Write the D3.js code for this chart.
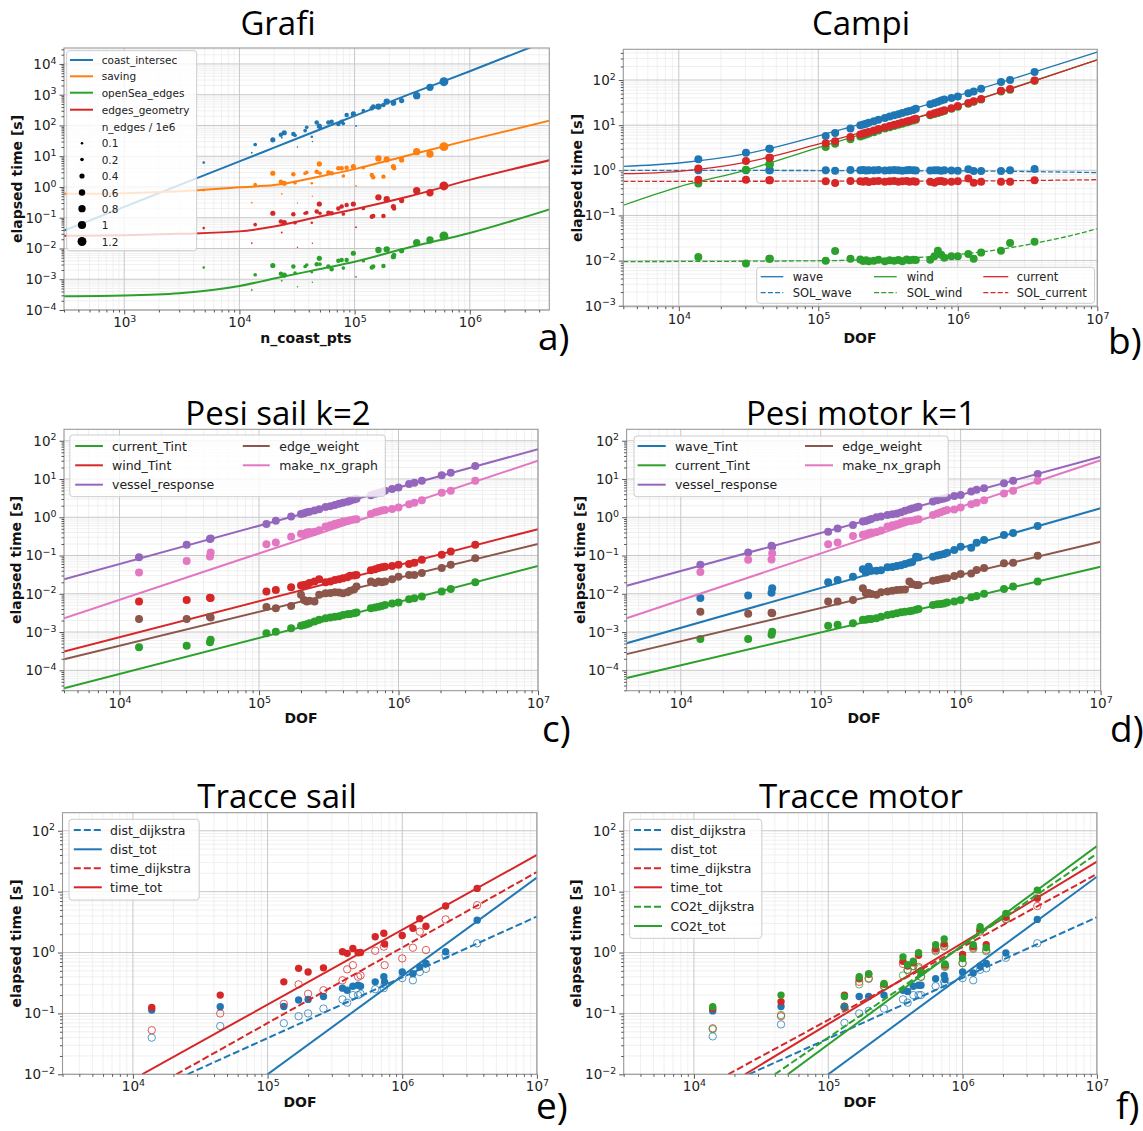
<!DOCTYPE html>
<html>
<head>
<meta charset="utf-8">
<script src="https://cdn.jsdelivr.net/npm/d3@7"></script>
<style>body{margin:0;background:#fff;}</style>
</head>
<body>
<script>
var blue = "#1f77b4", orange = "#ff7f0e", green = "#2ca02c", red = "#d62728",
    purple = "#9467bd", brown = "#8c564b", pink = "#e377c2";

// ---------- a) Grafi : one row per graph ----------
var aCoastPts = [4.9e3, 1.28e4, 1.37e4, 1.95e4, 2.33e4, 2.29e4, 2.45e4, 2.94e4, 3.04e4, 3.19e4,
                 3.72e4, 3.84e4, 4.25e4, 4.3e4, 4.69e4, 4.94e4, 5.0e4, 5.92e4, 6.32e4, 7.22e4,
                 7.72e4, 7.98e4, 8.53e4, 9.75e4, 1.03e5, 1.19e5, 1.41e5, 1.45e5, 1.61e5, 1.78e5,
                 1.9e5, 2.17e5, 2.2e5, 2.56e5, 3.46e5, 4.51e5, 5.96e5];
var aNEdges = [0.1, 0.05, 0.2, 0.4, 0.05, 0.3, 0.4, 0.3, 0.2, 0.03,
               0.2, 0.2, 0.1, 0.03, 0.3, 0.4, 0.2, 0.3, 0.3, 0.3,
               0.3, 0.2, 0.3, 0.4, 0.05, 0.2, 0.3, 0.3, 0.6, 0.3,
               0.6, 0.4, 0.3, 0.4, 0.8, 0.8, 1.2];
var aCoastIntersec = [6.2, 13, 24, 34, 40, 50, 58, 53, 48, 20,
                      68, 87, 43, 30, 124, 96, 87, 124, 133, 112,
                      133, 115, 220, 237, 96, 303, 361, 410, 410, 464,
                      596, 530, 560, 643, 933, 1740, 2660];
var aSaving = [0.79, 0.31, 1.2, 2.8, 0.6, 1.49, 1.32, 2.6, 1.38, 0.3,
               2.78, 3.0, 1.32, 0.5, 3.15, 5.6, 2.78, 2.93, 2.78, 4.05,
               4.05, 2.28, 4.25, 4.6, 1.08, 4.25, 2.45, 2.06, 8.5, 2.17,
               7.9, 4.6, 4.05, 7.6, 14.1, 11.8, 20.5];
var aOpenSea = [0.0024, 0.00045, 0.0014, 0.0028, 0.0009, 0.0015, 0.00137, 0.0026, 0.0016, 0.00057,
                0.0026, 0.0029, 0.0017, 0.0008, 0.0031, 0.0048, 0.0031, 0.0026, 0.0021, 0.004,
                0.0042, 0.0023, 0.0042, 0.007, 0.0012, 0.004, 0.0024, 0.0026, 0.0089, 0.0027,
                0.0094, 0.0054, 0.0061, 0.0085, 0.0155, 0.0189, 0.0255];
var aEdgesGeom = [0.046, 0.015, 0.06, 0.14, 0.033, 0.075, 0.069, 0.13, 0.069, 0.011,
                  0.14, 0.146, 0.069, 0.0148, 0.158, 0.28, 0.14, 0.146, 0.139, 0.2,
                  0.23, 0.132, 0.26, 0.28, 0.049, 0.2, 0.108, 0.114, 0.46, 0.114,
                  0.4, 0.23, 0.2, 0.36, 0.76, 0.65, 1.08];
var aFitX = [300, 1e3, 3e3, 1e4, 2e4, 5e4, 1e5, 3e5, 1e6, 5e6];
var aFitCoast = [0.038, 0.226, 1.15, 6.8, 19, 74, 205, 1040, 5800, 62000];
var aFitSaving = [0.60, 0.63, 0.72, 0.98, 1.15, 2.2, 3.8, 11, 34, 145];
var aFitOpenSea = [2.8e-4, 2.95e-4, 3.5e-4, 6e-4, 1.05e-3, 2.15e-3, 3.7e-3, 0.011, 0.032, 0.19];
var aFitEdgesGeom = [0.026, 0.027, 0.03, 0.036, 0.052, 0.11, 0.19, 0.5, 1.7, 7.5];
var aSizeKeys = [0.1, 0.2, 0.4, 0.6, 0.8, 1, 1.2];

// ---------- b, c, d : shared DOF ----------
var dof = [1.38e4, 3.03e4, 4.45e4, 4.5e4, 1.13e5, 1.32e5, 1.7e5, 2.0e5, 2.1e5, 2.2e5,
           2.3e5, 2.5e5, 2.7e5, 3.0e5, 3.25e5, 3.5e5, 3.75e5, 4.0e5, 4.3e5, 4.5e5,
           4.8e5, 5.0e5, 6.34e5, 6.8e5, 7.2e5, 7.6e5, 8.0e5, 9.0e5, 1.0e6, 1.19e6,
           1.3e6, 1.47e6, 2.04e6, 2.37e6, 3.55e6];

// b) Campi
var bWave = [1.75, 2.46, 3.0, 3.0, 5.75, 6.7, 8.4, 9.9, 10.3, 10.8, 11.3, 12.2, 13.2, 14.5, 15.5, 16.5, 17.5, 18.5,
             19.8, 20.5, 21.8, 23, 29, 31, 33, 35, 37, 40, 43, 51, 56, 64, 90, 100, 150];
var bWind = [0.51, 1.03, 1.36, 1.36, 3.3, 3.9, 4.9, 5.6, 5.9, 6.2, 6.5, 7.0, 7.6, 8.4, 9.0, 9.6, 10.2, 10.8,
             11.5, 12.0, 12.7, 13.2, 16.5, 17.6, 18.6, 19.6, 20.6, 23, 25.5, 30, 33, 37, 56, 61, 96];
var bCurrent = [1.09, 1.6, 1.9, 1.9, 4.0, 4.4, 5.5, 6.2, 6.5, 6.8, 7.1, 7.6, 8.2, 9.0, 9.6, 10.2, 10.8, 11.4,
                12.1, 12.6, 13.3, 13.8, 17.2, 18.3, 19.3, 20.3, 21.3, 23.8, 26.5, 31, 34, 38, 58, 63, 98];
var bSolWave = [1.0, 1.0, 1.0, 1.0, 1.0, 0.98, 1.02, 1.0, 1.01, 0.99, 1.0, 1.0, 1.02, 0.99, 1.0, 1.01, 1.0, 0.98,
                1.0, 1.01, 1.0, 0.99, 0.99, 1.0, 1.0, 0.98, 1.0, 0.99, 0.98, 1.06, 0.96, 0.97, 0.96, 1.0, 1.07];
var bSolCurrent = [0.62, 0.62, 0.6, 0.6, 0.57, 0.52, 0.58, 0.57, 0.56, 0.58, 0.55, 0.57, 0.58, 0.56, 0.57, 0.58, 0.56, 0.57,
                   0.58, 0.56, 0.57, 0.56, 0.56, 0.53, 0.57, 0.58, 0.56, 0.56, 0.57, 0.66, 0.53, 0.56, 0.56, 0.56, 0.6];
var bSolWind = [0.012, 0.0086, 0.011, 0.011, 0.0099, 0.0162, 0.011, 0.0105, 0.0098, 0.0102, 0.0097, 0.0099, 0.0104,
                0.0097, 0.0101, 0.0099, 0.0103, 0.0097, 0.0105, 0.0101, 0.0104, 0.0103, 0.0104, 0.0125, 0.0165,
                0.0135, 0.0115, 0.0125, 0.0124, 0.014, 0.011, 0.015, 0.0165, 0.0246, 0.026];
var bFitX = [4000, 1e4, 3e4, 1e5, 3e5, 1e6, 3e6, 1e7];
var bFitWave = [1.22, 1.45, 2.3, 5.8, 15, 45, 128, 415];
var bFitWind = [0.168, 0.43, 1.0, 3.2, 9.0, 27, 82, 280];
var bFitCurrent = [0.84, 0.95, 1.5, 3.8, 9.5, 27, 80, 280];
var bSolX = [4000, 1e6, 1e7];
var bFitSolWave = [1.0, 0.97, 0.89];
var bFitSolCurrent = [0.57, 0.58, 0.62];
var bSolWindX = [4000, 1e5, 5e5, 1e6, 2e6, 4e6, 7e6, 1e7];
var bFitSolWind = [0.0095, 0.0099, 0.0116, 0.0136, 0.0177, 0.026, 0.038, 0.051];

// c) Pesi sail k=2
var cCurrentTint = [0.0004, 0.00044, 0.00054, 0.00063, 0.00093, 0.00102, 0.00125, 0.00147, 0.00152, 0.0016, 0.0017,
                    0.00188, 0.0021, 0.0023, 0.0024, 0.0025, 0.0026, 0.0028, 0.0029, 0.00295, 0.0031, 0.00325, 0.0042,
                    0.0044, 0.0046, 0.0048, 0.0051, 0.0056, 0.0059, 0.0072, 0.0076, 0.0085, 0.0115, 0.0133, 0.02];
var cWindTint = [0.0063, 0.0069, 0.0079, 0.0077, 0.0115, 0.0126, 0.0148, 0.0164, 0.017, 0.0175, 0.019, 0.021, 0.024,
                 0.02, 0.021, 0.023, 0.024, 0.0255, 0.027, 0.0295, 0.03, 0.031, 0.041, 0.044, 0.047, 0.049, 0.051,
                 0.053, 0.057, 0.06, 0.065, 0.077, 0.104, 0.127, 0.19];
var cVessel = [0.09, 0.19, 0.27, 0.28, 0.67, 0.81, 1.04, 1.22, 1.28, 1.35, 1.4, 1.5, 1.62, 1.85, 1.95, 2.1, 2.25, 2.4,
               2.55, 2.7, 2.9, 3.05, 3.75, 4.1, 4.4, 4.6, 4.9, 5.5, 6.0, 7.4, 8.0, 9.0, 12.6, 14.6, 21.9];
var cEdgeWeight = [0.0022, 0.0022, 0.0025, 0.0024, 0.0045, 0.0042, 0.0048, 0.0094, 0.0069, 0.0063, 0.0066, 0.0063,
                   0.0094, 0.0103, 0.0105, 0.011, 0.0108, 0.0103, 0.011, 0.012, 0.013, 0.0155, 0.021, 0.019, 0.021,
                   0.02, 0.021, 0.024, 0.028, 0.031, 0.031, 0.035, 0.047, 0.057, 0.085];
var cNxGraph = [0.036, 0.072, 0.094, 0.12, 0.197, 0.22, 0.31, 0.37, 0.36, 0.4, 0.41, 0.42, 0.46, 0.57, 0.62, 0.68,
                0.72, 0.77, 0.8, 0.84, 0.88, 0.89, 1.22, 1.35, 1.42, 1.5, 1.55, 1.65, 1.8, 2.2, 2.4, 2.8, 4.4, 4.9, 9.0];
var fitEndX = [4000, 1e7];
var cFitCurrent = [3.4e-5, 0.053];
var cFitWind = [3.1e-4, 0.49];
var cFitVessel = [0.024, 60];
var cFitEdge = [1.95e-4, 0.2];
var cFitNx = [0.0023, 30];

// d) Pesi motor k=1
var dWaveTint = [0.0077, 0.009, 0.0107, 0.014, 0.02, 0.023, 0.028, 0.044, 0.036, 0.051, 0.04, 0.04, 0.041, 0.049,
                 0.05, 0.053, 0.056, 0.06, 0.065, 0.068, 0.093, 0.09, 0.093, 0.1, 0.104, 0.11, 0.119, 0.14, 0.17,
                 0.16, 0.217, 0.255, 0.345, 0.39, 0.59];
var dCurrentTint = [0.00066, 0.00066, 0.00085, 0.00102, 0.00145, 0.00155, 0.0017, 0.0021, 0.0021, 0.0022, 0.0022,
                    0.0023, 0.0025, 0.0028, 0.0029, 0.0031, 0.0033, 0.0034, 0.0035, 0.0036, 0.0038, 0.004, 0.0051,
                    0.0053, 0.0054, 0.0056, 0.0059, 0.0063, 0.0069, 0.0081, 0.0088, 0.01, 0.0133, 0.0155, 0.021];
var dVessel = [0.057, 0.12, 0.18, 0.17, 0.42, 0.51, 0.63, 0.77, 0.8, 0.85, 0.9, 1.0, 1.05, 1.15, 1.2, 1.26, 1.35,
               1.49, 1.6, 1.7, 1.8, 1.89, 2.57, 2.8, 2.95, 3.1, 3.3, 3.6, 3.8, 4.7, 5.2, 5.7, 7.7, 9.0, 13.5];
var dEdgeWeight = [0.0034, 0.003, 0.0032, 0.0031, 0.0063, 0.0063, 0.0069, 0.014, 0.0103, 0.0105, 0.0098, 0.0095,
                   0.011, 0.0115, 0.012, 0.0126, 0.0128, 0.013, 0.021, 0.018, 0.017, 0.017, 0.022, 0.023, 0.024,
                   0.025, 0.0255, 0.029, 0.033, 0.034, 0.042, 0.047, 0.063, 0.065, 0.098];
var dNxGraph = [0.037, 0.077, 0.079, 0.115, 0.197, 0.22, 0.325, 0.35, 0.36, 0.38, 0.4, 0.41, 0.45, 0.57, 0.62, 0.66,
                0.72, 0.77, 0.8, 0.81, 0.86, 0.89, 1.15, 1.25, 1.35, 1.45, 1.55, 1.6, 1.8, 2.2, 2.4, 2.8, 4.2, 4.9, 9.0];
var dFitX = [4100, 1e7];
var dFitWave = [5.1e-4, 1.72];
var dFitCurrent = [6.3e-5, 0.051];
var dFitVessel = [0.0162, 38];
var dFitEdge = [2.65e-4, 0.23];
var dFitNx = [0.0023, 31];

// ---------- e, f : routes ----------
var trDof = [1.38e4, 4.45e4, 1.32e5, 1.7e5, 2.0e5, 2.6e5, 3.6e5, 3.9e5, 4.3e5, 4.7e5,
             4.9e5, 6.3e5, 7.3e5, 7.4e5, 1.0e6, 1.2e6, 1.35e6, 1.5e6, 2.1e6, 3.6e6];
var eDistDij = [0.04, 0.062, 0.069, 0.09, 0.1, 0.12, 0.17, 0.15, 0.2, 0.2, 0.21, 0.25, 0.26, 0.3, 0.38, 0.35, 0.48, 0.54, 0.9, 1.42];
var eDistTot = [0.114, 0.129, 0.13, 0.166, 0.17, 0.19, 0.26, 0.24, 0.28, 0.29, 0.28, 0.33, 0.4, 0.33, 0.48, 0.45, 0.58, 0.66, 1.03, 3.4];
var eTimeDij = [0.053, 0.1, 0.143, 0.3, 0.21, 0.24, 0.35, 0.53, 0.62, 0.4, 0.42, 1.07, 1.25, 0.62, 0.8, 1.2, 2.2, 1.1, 3.5, 6.0];
var eTimeTot = [0.125, 0.2, 0.33, 0.55, 0.48, 0.56, 1.03, 0.97, 1.17, 0.99, 1.0, 1.82, 2.07, 1.38, 1.9, 2.5, 3.6, 2.7, 5.8, 11.3];
var eFitDistDij = [[2.54e4, 1e7], [0.01, 3.9]];
var eFitDistTot = [[1e5, 1e7], [0.01, 17]];
var eFitTimeDij = [[2.1e4, 1e7], [0.01, 21]];
var eFitTimeTot = [[1.17e4, 1e7], [0.01, 40]];

var fDistDij = [0.042, 0.066, 0.07, 0.1, 0.11, 0.12, 0.17, 0.15, 0.2, 0.2, 0.2, 0.28, 0.33, 0.3, 0.38, 0.35, 0.52, 0.55, 0.82, 1.42];
var fDistTot = [0.11, 0.13, 0.13, 0.19, 0.19, 0.2, 0.24, 0.23, 0.28, 0.29, 0.29, 0.37, 0.42, 0.36, 0.48, 0.46, 0.6, 0.66, 0.98, 3.5];
var fTimeDij = [0.057, 0.09, 0.13, 0.33, 0.37, 0.28, 0.65, 0.52, 0.6, 0.58, 0.4, 1.1, 1.25, 0.6, 0.67, 1.2, 2.2, 1.1, 3.5, 5.8];
var fTimeTot = [0.12, 0.156, 0.2, 0.37, 0.44, 0.3, 0.72, 0.6, 0.68, 0.9, 0.5, 1.15, 1.38, 0.62, 0.93, 1.25, 2.4, 1.34, 3.8, 7.8];
var fCo2Dij = [0.055, 0.094, 0.125, 0.3, 0.38, 0.28, 0.42, 0.52, 0.6, 0.55, 0.4, 1.05, 1.3, 0.58, 0.67, 1.15, 2.3, 1.05, 3.6, 9.2];
var fCo2Tot = [0.129, 0.2, 0.19, 0.4, 0.45, 0.31, 0.85, 0.63, 0.72, 0.99, 0.47, 1.34, 1.67, 0.65, 0.8, 1.34, 2.66, 1.2, 4.4, 10.6];
var fFitDistDij = [[2.57e4, 1e7], [0.01, 3.8]];
var fFitDistTot = [[1e5, 1e7], [0.01, 17.6]];
var fFitTimeDij = [[1.8e4, 1e7], [0.01, 19.5]];
var fFitTimeTot = [[2.4e4, 1e7], [0.01, 31]];
var fFitCo2Dij = [[4.0e4, 1e7], [0.01, 42]];
var fFitCo2Tot = [[5.0e4, 1e7], [0.01, 56]];

// ---------------------------------------------------------------
var svg = d3.select("body").append("svg")
    .attr("width", 1143)
    .attr("height", 1131)
    .attr("xmlns", "http://www.w3.org/2000/svg");
svg.append("rect").attr("width", 1143).attr("height", 1131).attr("fill", "#fff");

var tickFont = "DejaVu Sans";

function logTicks(dom) {
    var lo = Math.floor(Math.log10(dom[0])), hi = Math.ceil(Math.log10(dom[1]));
    var major = [], minor = [];
    for (var e = lo; e <= hi; e++) {
        var v = Math.pow(10, e);
        if (v >= dom[0] * 0.999 && v <= dom[1] * 1.001) major.push(v);
        for (var m = 2; m < 10; m++) {
            var w = m * v;
            if (w >= dom[0] && w <= dom[1]) minor.push(w);
        }
    }
    return {major: major, minor: minor};
}

function sup(sel, v) {
    var e = Math.round(Math.log10(v));
    sel.text("10");
    sel.append("tspan").attr("dy", "-0.55em").attr("font-size", "0.7em")
        .text(e < 0 ? "\u2212" + (-e) : "" + e);
}

function makePanel(p) {
    var x = d3.scaleLog().domain(p.xd).range([p.l, p.r]);
    var y = d3.scaleLog().domain(p.yd).range([p.b, p.t]);
    var g = svg.append("g");
    var cid = "clip_" + p.name;
    g.append("clipPath").attr("id", cid).append("rect")
        .attr("x", p.l).attr("y", p.t).attr("width", p.r - p.l).attr("height", p.b - p.t);

    var tx = logTicks(p.xd), ty = logTicks(p.yd);
    var grid = g.append("g");
    tx.minor.forEach(function(v) {
        grid.append("line").attr("x1", x(v)).attr("x2", x(v)).attr("y1", p.t).attr("y2", p.b)
            .attr("stroke", "#ececec").attr("stroke-width", 0.8);
    });
    ty.minor.forEach(function(v) {
        grid.append("line").attr("y1", y(v)).attr("y2", y(v)).attr("x1", p.l).attr("x2", p.r)
            .attr("stroke", "#ececec").attr("stroke-width", 0.8);
    });
    tx.major.forEach(function(v) {
        grid.append("line").attr("x1", x(v)).attr("x2", x(v)).attr("y1", p.t).attr("y2", p.b)
            .attr("stroke", "#c8c8c8").attr("stroke-width", 1);
    });
    ty.major.forEach(function(v) {
        grid.append("line").attr("y1", y(v)).attr("y2", y(v)).attr("x1", p.l).attr("x2", p.r)
            .attr("stroke", "#c8c8c8").attr("stroke-width", 1);
    });

    var data = g.append("g").attr("clip-path", "url(#" + cid + ")");

    // frame
    g.append("rect").attr("x", p.l).attr("y", p.t).attr("width", p.r - p.l).attr("height", p.b - p.t)
        .attr("fill", "none").attr("stroke", "#9a9a9a").attr("stroke-width", 1.1);

    // ticks
    var xMin = g.append("g").attr("transform", "translate(0," + p.b + ")")
        .call(d3.axisBottom(x).tickValues(tx.minor).tickSize(2.5).tickFormat(""));
    var xMaj = g.append("g").attr("transform", "translate(0," + p.b + ")")
        .call(d3.axisBottom(x).tickValues(tx.major).tickSize(4.5).tickPadding(3).tickFormat(""));
    var yMin = g.append("g").attr("transform", "translate(" + p.l + ",0)")
        .call(d3.axisLeft(y).tickValues(ty.minor).tickSize(2.5).tickFormat(""));
    var yMaj = g.append("g").attr("transform", "translate(" + p.l + ",0)")
        .call(d3.axisLeft(y).tickValues(ty.major).tickSize(4.5).tickPadding(3).tickFormat(""));
    [xMin, xMaj, yMin, yMaj].forEach(function(a) {
        a.attr("font-family", tickFont).attr("font-size", 13.5);
        a.select(".domain").remove();
        a.selectAll(".tick line").attr("stroke", "#555");
        a.selectAll(".tick text").attr("fill", "#222");
    });
    xMaj.selectAll(".tick text").each(function(d) { sup(d3.select(this), d); });
    yMaj.selectAll(".tick text").each(function(d) { sup(d3.select(this), d); });

    // axis titles
    g.append("text")
        .attr("transform", "translate(" + p.yl + "," + ((p.t + p.b) / 2) + ") rotate(-90)")
        .attr("text-anchor", "middle").attr("dominant-baseline", "central")
        .attr("font-family", tickFont).attr("font-weight", "bold").attr("font-size", 14)
        .attr("fill", "#111").text("elapsed time [s]");
    g.append("text").attr("x", p.xlx).attr("y", p.xly)
        .attr("text-anchor", "middle")
        .attr("font-family", tickFont).attr("font-weight", "bold").attr("font-size", 14)
        .attr("fill", "#111").text(p.xlabel);

    // title and letter
    svg.append("text").attr("x", p.tx).attr("y", p.ty).attr("text-anchor", "middle")
        .attr("font-family", "Open Sans").attr("font-size", 33).attr("fill", "#000").text(p.title);
    svg.append("text").attr("x", p.lx).attr("y", p.ly)
        .attr("font-family", "Open Sans").attr("font-size", 37).attr("fill", "#000").text(p.letter);

    return {x: x, y: y, g: g, data: data};
}

function pairs(xs, ys) {
    return xs.map(function(v, i) { return [v, ys[i]]; });
}

function fitLine(P, xs, ys, color, w, dash) {
    var line = d3.line()
        .x(function(d) { return P.x(d[0]); })
        .y(function(d) { return P.y(d[1]); })
        .curve(xs.length > 2 ? d3.curveMonotoneX : d3.curveLinear);
    P.data.append("path").datum(pairs(xs, ys))
        .attr("d", line).attr("fill", "none")
        .attr("stroke", color).attr("stroke-width", w)
        .attr("stroke-dasharray", dash || null);
}

function dots(P, xs, ys, color, r, open) {
    P.data.append("g").selectAll("circle")
        .data(pairs(xs, ys))
        .join("circle")
        .attr("cx", function(d) { return P.x(d[0]); })
        .attr("cy", function(d) { return P.y(d[1]); })
        .attr("r", function(d, i) { return typeof r === "function" ? r(i) : r; })
        .attr("fill", open ? "none" : color)
        .attr("stroke", open ? color : "none")
        .attr("stroke-width", 1)
        .attr("opacity", open ? 0.75 : 1);
}

function legend(P, box, items, fs) {
    var lg = P.g.append("g");
    lg.append("rect").attr("x", box[0]).attr("y", box[1])
        .attr("width", box[2] - box[0]).attr("height", box[3] - box[1])
        .attr("rx", 3).attr("fill", "#fff").attr("fill-opacity", 0.8)
        .attr("stroke", "#cccccc").attr("stroke-width", 1);
    items.forEach(function(it) {
        if (it.color) {
            lg.append("line").attr("x1", it.x1).attr("x2", it.x2).attr("y1", it.y).attr("y2", it.y)
                .attr("stroke", it.color).attr("stroke-width", it.w || 2)
                .attr("stroke-dasharray", it.dash || null);
        }
        if (it.dot) {
            lg.append("circle").attr("cx", it.dx).attr("cy", it.y).attr("r", it.dot).attr("fill", "#000");
        }
        lg.append("text").attr("x", it.tx).attr("y", it.y).attr("dominant-baseline", "central")
            .attr("font-family", tickFont).attr("font-size", fs).attr("fill", "#222").text(it.label);
    });
}

var sizeR = function(v) { return 4.1 * Math.sqrt(v); };

// ================= a) =================
var A = makePanel({name: "a", l: 64, r: 549.3, t: 48, b: 310, xd: [300, 4.9e6], yd: [1e-4, 33000],
    yl: 17, xlx: 306, xly: 343, xlabel: "n_coast_pts", title: "Grafi", tx: 278, ty: 35, letter: "a)", lx: 538, ly: 350});
[[aCoastIntersec, aFitCoast, blue], [aSaving, aFitSaving, orange],
 [aOpenSea, aFitOpenSea, green], [aEdgesGeom, aFitEdgesGeom, red]].forEach(function(s) {
    dots(A, aCoastPts, s[0], s[2], function(i) { return sizeR(aNEdges[i]); }, false);
    fitLine(A, aFitX, s[1], s[2], 2);
});
var aItems = [
    {label: "coast_intersec", color: blue, x1: 70, x2: 93, tx: 101.7, y: 60},
    {label: "saving", color: orange, x1: 70, x2: 93, tx: 101.7, y: 76.3},
    {label: "openSea_edges", color: green, x1: 70, x2: 93, tx: 101.7, y: 92.7},
    {label: "edges_geometry", color: red, x1: 70, x2: 93, tx: 101.7, y: 109.7},
    {label: "n_edges / 1e6", tx: 101.7, y: 126.7}
];
var aKeyY = [143.3, 159.5, 176, 192.5, 208.7, 225, 241.5];
aSizeKeys.forEach(function(v, i) {
    aItems.push({label: String(v), tx: 101.7, y: aKeyY[i], dot: sizeR(v), dx: 82});
});
legend(A, [66.7, 50.7, 196.7, 250.7], aItems, 10.5);

// ================= b) =================
var B = makePanel({name: "b", l: 623.3, r: 1097.3, t: 49.3, b: 306.7, xd: [4000, 1e7], yd: [9.5e-4, 480],
    yl: 577, xlx: 860, xly: 343, xlabel: "DOF", title: "Campi", tx: 861, ty: 35, letter: "b)", lx: 1108, ly: 354});
[[bWave, bFitX, bFitWave, blue, null], [bSolWave, bSolX, bFitSolWave, blue, "5,2.2"],
 [bWind, bFitX, bFitWind, green, null], [bSolWind, bSolWindX, bFitSolWind, green, "5,2.2"],
 [bCurrent, bFitX, bFitCurrent, red, null], [bSolCurrent, bSolX, bFitSolCurrent, red, "5,2.2"]].forEach(function(s) {
    dots(B, dof, s[0], s[3], 4, false);
    fitLine(B, s[1], s[2], s[3], 1.3, s[4]);
});
legend(B, [756.7, 267.3, 1094.5, 303.3], [
    {label: "wave", color: blue, w: 1.3, x1: 760.7, x2: 783.3, tx: 792.7, y: 276.7},
    {label: "SOL_wave", color: blue, w: 1.3, dash: "5,2.2", x1: 760.7, x2: 783.3, tx: 792.7, y: 292.7},
    {label: "wind", color: green, w: 1.3, x1: 874, x2: 896.7, tx: 906.7, y: 276.7},
    {label: "SOL_wind", color: green, w: 1.3, dash: "5,2.2", x1: 874, x2: 896.7, tx: 906.7, y: 292.7},
    {label: "current", color: red, w: 1.3, x1: 983.3, x2: 1008.3, tx: 1016.7, y: 276.7},
    {label: "SOL_current", color: red, w: 1.3, dash: "5,2.2", x1: 983.3, x2: 1008.3, tx: 1016.7, y: 292.7}
], 11.5);

// ================= c) =================
var C = makePanel({name: "c", l: 64, r: 538, t: 429.3, b: 690.7, xd: [4000, 1e7], yd: [2.93e-5, 199],
    yl: 16, xlx: 301, xly: 723, xlabel: "DOF", title: "Pesi sail k=2", tx: 278, ty: 425, letter: "c)", lx: 542, ly: 742});
[[cCurrentTint, cFitCurrent, green], [cWindTint, cFitWind, red], [cVessel, cFitVessel, purple],
 [cEdgeWeight, cFitEdge, brown], [cNxGraph, cFitNx, pink]].forEach(function(s) {
    dots(C, dof, s[0], s[2], 4, false);
    fitLine(C, fitEndX, s[1], s[2], 2);
});
legend(C, [69.8, 435, 385.3, 496.7], [
    {label: "current_Tint", color: green, x1: 75.2, x2: 102.9, tx: 112, y: 446},
    {label: "wind_Tint", color: red, x1: 75.2, x2: 102.9, tx: 112, y: 465.3},
    {label: "vessel_response", color: purple, x1: 75.2, x2: 102.9, tx: 112, y: 484.7},
    {label: "edge_weight", color: brown, x1: 242.8, x2: 269.7, tx: 279.2, y: 446},
    {label: "make_nx_graph", color: pink, x1: 242.8, x2: 269.7, tx: 279.2, y: 465.3}
], 12.5);

// ================= d) =================
var D = makePanel({name: "d", l: 626.6, r: 1100.6, t: 429.3, b: 690.7, xd: [4100, 1e7], yd: [2.93e-5, 199],
    yl: 580, xlx: 864, xly: 723, xlabel: "DOF", title: "Pesi motor k=1", tx: 861, ty: 425, letter: "d)", lx: 1110, ly: 742});
[[dWaveTint, dFitWave, blue], [dCurrentTint, dFitCurrent, green], [dVessel, dFitVessel, purple],
 [dEdgeWeight, dFitEdge, brown], [dNxGraph, dFitNx, pink]].forEach(function(s) {
    dots(D, dof, s[0], s[2], 4, false);
    fitLine(D, dFitX, s[1], s[2], 2);
});
legend(D, [634, 436, 948.2, 496.7], [
    {label: "wave_Tint", color: blue, x1: 637.6, x2: 665.7, tx: 674.9, y: 446},
    {label: "current_Tint", color: green, x1: 637.6, x2: 665.7, tx: 674.9, y: 465.3},
    {label: "vessel_response", color: purple, x1: 637.6, x2: 665.7, tx: 674.9, y: 484.7},
    {label: "edge_weight", color: brown, x1: 805, x2: 833, tx: 842.2, y: 446},
    {label: "make_nx_graph", color: pink, x1: 805, x2: 833, tx: 842.2, y: 465.3}
], 12.5);

// ================= e) =================
var E = makePanel({name: "e", l: 62.5, r: 536.9, t: 812.7, b: 1074.3, xd: [3000, 1e7], yd: [0.01, 198],
    yl: 16, xlx: 300, xly: 1107, xlabel: "DOF", title: "Tracce sail", tx: 277, ty: 808, letter: "e)", lx: 536, ly: 1119});
[[eDistDij, eFitDistDij, blue, true], [eDistTot, eFitDistTot, blue, false],
 [eTimeDij, eFitTimeDij, red, true], [eTimeTot, eFitTimeTot, red, false]].forEach(function(s) {
    dots(E, trDof, s[0], s[2], 3.7, s[3]);
    fitLine(E, s[1][0], s[1][1], s[2], 2, s[3] ? "7,3" : null);
});
legend(E, [69, 819.3, 199.2, 900], [
    {label: "dist_dijkstra", color: blue, dash: "7,3", x1: 73.8, x2: 101.8, tx: 110.1, y: 830},
    {label: "dist_tot", color: blue, x1: 73.8, x2: 101.8, tx: 110.1, y: 849.3},
    {label: "time_dijkstra", color: red, dash: "7,3", x1: 73.8, x2: 101.8, tx: 110.1, y: 868.3},
    {label: "time_tot", color: red, x1: 73.8, x2: 101.8, tx: 110.1, y: 887.3}
], 12.5);

// ================= f) =================
var F = makePanel({name: "f", l: 623.7, r: 1096.9, t: 812.7, b: 1074.3, xd: [3000, 1e7], yd: [0.01, 198],
    yl: 576, xlx: 860, xly: 1107, xlabel: "DOF", title: "Tracce motor", tx: 861, ty: 808, letter: "f)", lx: 1116, ly: 1119});
[[fDistDij, fFitDistDij, blue, true], [fDistTot, fFitDistTot, blue, false],
 [fTimeDij, fFitTimeDij, red, true], [fTimeTot, fFitTimeTot, red, false],
 [fCo2Dij, fFitCo2Dij, green, true], [fCo2Tot, fFitCo2Tot, green, false]].forEach(function(s) {
    dots(F, trDof, s[0], s[2], 3.7, s[3]);
    fitLine(F, s[1][0], s[1][1], s[2], 2, s[3] ? "7,3" : null);
});
legend(F, [629.6, 819.3, 761.8, 938.3], [
    {label: "dist_dijkstra", color: blue, dash: "7,3", x1: 634, x2: 662, tx: 670.5, y: 830},
    {label: "dist_tot", color: blue, x1: 634, x2: 662, tx: 670.5, y: 849.3},
    {label: "time_dijkstra", color: red, dash: "7,3", x1: 634, x2: 662, tx: 670.5, y: 868.3},
    {label: "time_tot", color: red, x1: 634, x2: 662, tx: 670.5, y: 887.3},
    {label: "CO2t_dijkstra", color: green, dash: "7,3", x1: 634, x2: 662, tx: 670.5, y: 906.7},
    {label: "CO2t_tot", color: green, x1: 634, x2: 662, tx: 670.5, y: 926}
], 12.5);
</script>
</body>
</html>
